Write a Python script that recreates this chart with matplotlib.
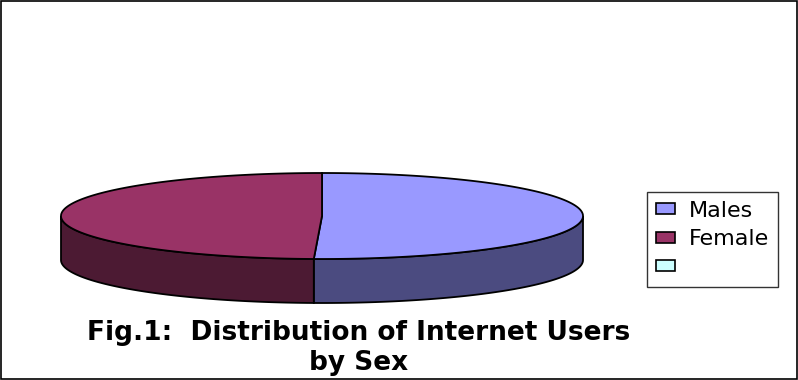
import numpy as np
import matplotlib.pyplot as plt
from matplotlib.patches import Polygon, Patch, Rectangle

# Data
labels = ["Males", "Female", ""]
values = [50.5, 49.5, 0.0]
top_colors = ["#9999FF", "#993366", "#CCFFFF"]
side_colors = ["#4B4B80", "#4C1A33", "#669999"]
title = "Fig.1:  Distribution of Internet Users\nby Sex"

W, H = 798, 380
CX, CY = 322, 216      # centre of the top ellipse (pixels)
RA, RB = 261, 43       # ellipse semi-axes
DEPTH = 44


def ell(theta_deg, dy=0):
    t = np.radians(theta_deg)
    return np.column_stack([CX + RA * np.cos(t), CY - RB * np.sin(t) + dy])


def front_part(lo, hi):
    # intersect [lo, hi] with the visible front half [-180, 0]
    parts = []
    for k in (-2, -1, 0, 1):
        a, b = lo + 360 * k, hi + 360 * k
        a2, b2 = max(a, -180), min(b, 0)
        if b2 > a2:
            parts.append((a2, b2))
    return parts


fig = plt.figure(figsize=(W / 100, H / 100), dpi=100)
ax = fig.add_axes([0, 0, 1, 1])
ax.set_xlim(0, W)
ax.set_ylim(H, 0)
ax.axis("off")

total = sum(values)
start = 90.0
spans = []
for v in values:
    end = start - 360.0 * v / total
    spans.append((end, start))
    start = end

# side walls
for (lo, hi), c in zip(spans, side_colors):
    if hi - lo <= 0:
        continue
    for a, b in front_part(lo, hi):
        th = np.linspace(a, b, 200)
        pts = np.vstack([ell(th), ell(th[::-1], DEPTH)])
        ax.add_patch(Polygon(pts, closed=True, fc=c, ec="black", lw=1.3))

# top faces
for (lo, hi), c in zip(spans, top_colors):
    if hi - lo <= 0:
        continue
    th = np.linspace(lo, hi, 300)
    pts = np.vstack([[CX, CY], ell(th)])
    ax.add_patch(Polygon(pts, closed=True, fc=c, ec="black", lw=1.3))

handles = [Patch(fc=c, ec="black", lw=1.2) for c in top_colors]
leg = ax.legend(handles, labels, loc="upper left",
                bbox_to_anchor=(647 / W, 1 - 192 / H), bbox_transform=fig.transFigure,
                prop={"family": "DejaVu Sans", "size": 16},
                fancybox=False, frameon=True, edgecolor="black",
                handlelength=0.85, handleheight=0.38, handletextpad=0.65,
                labelspacing=0.38, borderpad=0.4, borderaxespad=0)
leg.get_frame().set_linewidth(1.0)

ax.text(359, 348.5, title, ha="center", va="center", fontsize=19,
        fontweight="bold", family="DejaVu Sans", linespacing=1.2)

ax.add_patch(Rectangle((0.5, 0.5), W - 1.5, H - 1.5, fill=False, ec="black", lw=1.2))

fig.savefig("out.png", dpi=100)
